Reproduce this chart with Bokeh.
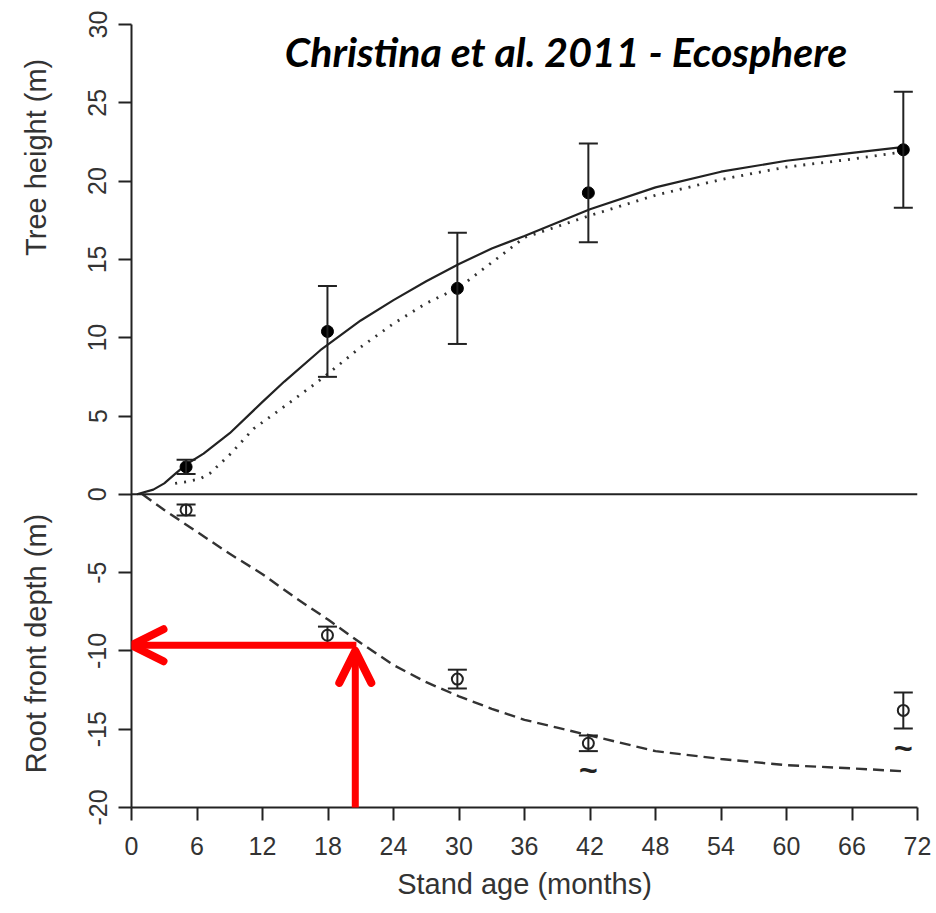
from bokeh.plotting import figure
from bokeh.models import (Range1d, Whisker, TeeHead, Span, Label, Arrow, OpenHead,
                          ColumnDataSource, FixedTicker)
from bokeh.embed import file_html
from bokeh.resources import INLINE
from bokeh.core.properties import value

# ---------------- data ----------------
obs_age = [5, 17.95, 29.85, 41.85, 70.7]
height_mean = [1.75, 10.4, 13.15, 19.25, 22.0]
height_se = [0.45, 2.9, 3.55, 3.15, 3.7]
root_mean = [-1.0, -9.0, -11.8, -15.9, -13.8]
root_se = [0.35, 0.55, 0.6, 0.5, 1.15]

solid_age = [0.5, 2, 3, 4, 5, 6.6, 9, 12, 14, 17.3, 21, 24, 27, 30, 33, 36, 42, 48, 54, 60, 66, 71]
solid_height = [0, 0.3, 0.7, 1.3, 1.9, 2.6, 3.9, 5.9, 7.2, 9.2, 11.1, 12.4, 13.6, 14.7, 15.7, 16.5,
                18.2, 19.6, 20.6, 21.3, 21.8, 22.2]

dotted_age = [4, 5, 6.3, 7.2, 9.1, 11.2, 13.4, 16.7, 18, 21, 24, 27, 30, 33, 36, 42, 48, 54, 60, 66, 71]
dotted_height = [0.7, 0.8, 1.0, 1.35, 2.6, 4.2, 5.3, 7.0, 7.7, 9.4, 10.9, 12.2, 13.2, 14.8, 16.4,
                 17.8, 19.1, 20.1, 20.9, 21.4, 21.9]

dashed_age = [1, 3, 6, 9, 12, 15, 18, 21, 24, 27, 30, 33, 36, 39, 42, 48, 54, 60, 66, 71]
dashed_depth = [0, -1.0, -2.4, -3.8, -5.1, -6.6, -8.0, -9.5, -10.9, -12.0, -12.9, -13.7, -14.4,
                -14.9, -15.4, -16.4, -16.9, -17.3, -17.5, -17.7]

tilde_age = [41.85, 70.7]
tilde_depth = [-17.6, -16.2]

x_ticks = [0, 6, 12, 18, 24, 30, 36, 42, 48, 54, 60, 66, 72]
y_ticks = [-20, -15, -10, -5, 0, 5, 10, 15, 20, 25, 30]
y_tick_labels = ["-20", "-15", "-10", "-5", "0", "5", "10", "15", "20", "25", "30"]

# two y-axis titles (lower half / upper half) shown along one axis
y_title_lower = "Root front depth (m)"
y_title_upper = "Tree height (m)"

# red arrows (read-off point: age ~20.6 months -> depth ~ -9.6 m)
arrow_age = 20.6
arrow_depth = -9.64
arrow_v_top = -10.0

title_text = "Christina et al. 2011 - Ecosphere"

# ---------------- figure ----------------
FONT = "Liberation Sans"
INK = "#222222"
LABEL = "#333333"

p = figure(frame_width=786, frame_height=783,
           x_range=Range1d(0, 72), y_range=Range1d(-20, 30),
           output_backend="svg", toolbar_location=None,
           min_border_left=131, min_border_right=19,
           min_border_top=24, min_border_bottom=106)
p.outline_line_color = None
p.grid.visible = False
p.background_fill_color = "white"
p.border_fill_color = "white"

for ax in (p.xaxis[0], p.yaxis[0]):
    ax.axis_line_width = 2
    ax.axis_line_color = INK
    ax.major_tick_line_width = 2
    ax.major_tick_line_color = INK
    ax.major_tick_out = 13
    ax.major_tick_in = 0
    ax.minor_tick_line_color = None
    ax.major_label_text_font = FONT
    ax.major_label_text_font_size = "25px"
    ax.major_label_text_color = LABEL
    ax.axis_label_text_font = FONT
    ax.axis_label_text_font_size = "29px"
    ax.axis_label_text_font_style = "normal"
    ax.axis_label_text_color = LABEL

p.xaxis.ticker = FixedTicker(ticks=x_ticks)
p.xaxis.major_label_standoff = 16
p.xaxis.axis_label = "Stand age (months)"
p.xaxis.axis_label_standoff = 10

p.yaxis.ticker = FixedTicker(ticks=y_ticks)
p.yaxis.major_label_overrides = {t: s for t, s in zip(y_ticks, y_tick_labels)}
p.yaxis.major_label_orientation = "vertical"
p.yaxis.major_label_standoff = 12
p.yaxis.axis_label = y_title_lower + "\u00a0" * 32 + y_title_upper
p.yaxis.axis_label_standoff = 34

# zero line
p.add_layout(Span(location=0, dimension="width", line_width=2, line_color=INK))

# model curves
p.line(solid_age, solid_height, line_width=2.2, line_color=INK)
p.line(dotted_age, dotted_height, line_width=2.8, line_color="#333333", line_dash="2 7")
p.line(dashed_age, dashed_depth, line_width=2.4, line_color="#333333", line_dash="11 6")

# error bars
h_src = ColumnDataSource(dict(x=obs_age, y=height_mean,
                              upper=[m + s for m, s in zip(height_mean, height_se)],
                              lower=[m - s for m, s in zip(height_mean, height_se)]))
r_src = ColumnDataSource(dict(x=obs_age, y=root_mean,
                              upper=[m + s for m, s in zip(root_mean, root_se)],
                              lower=[m - s for m, s in zip(root_mean, root_se)]))
for src in (h_src, r_src):
    p.add_layout(Whisker(source=src, base="x", upper="upper", lower="lower",
                         line_width=2, line_color=INK, level="glyph",
                         upper_head=TeeHead(size=19, line_width=2, line_color=INK),
                         lower_head=TeeHead(size=19, line_width=2, line_color=INK)))

p.scatter("x", "y", source=h_src, size=12, fill_color="black", line_color="black")
p.scatter("x", "y", source=r_src, size=11, fill_color="white", line_color=INK, line_width=2)

p.text(x=tilde_age, y=tilde_depth, text=["~"] * len(tilde_age), text_font=value(FONT),
       text_font_size="32px", text_font_style="bold", text_color=INK,
       text_align="center", text_baseline="middle")

# title
p.add_layout(Label(x=39.8, y=28.3, text=title_text, text_font="Lato",
                   text_font_style="bold italic", text_font_size="41px", text_color="black",
                   text_align="center", text_baseline="alphabetic"))

# red arrows
RED = "#ff0000"
p.add_layout(Arrow(x_start=arrow_age, y_start=arrow_depth, x_end=0, y_end=arrow_depth,
                   line_width=7, line_color=RED,
                   end=OpenHead(size=32, line_width=8, line_color=RED, line_cap="round", line_join="round")))
p.add_layout(Arrow(x_start=arrow_age - 0.1, y_start=-20.2, x_end=arrow_age - 0.1, y_end=arrow_v_top,
                   line_width=7, line_color=RED,
                   end=OpenHead(size=32, line_width=8, line_color=RED, line_cap="round", line_join="round")))

open("out.html", "w").write(file_html(p, INLINE))
